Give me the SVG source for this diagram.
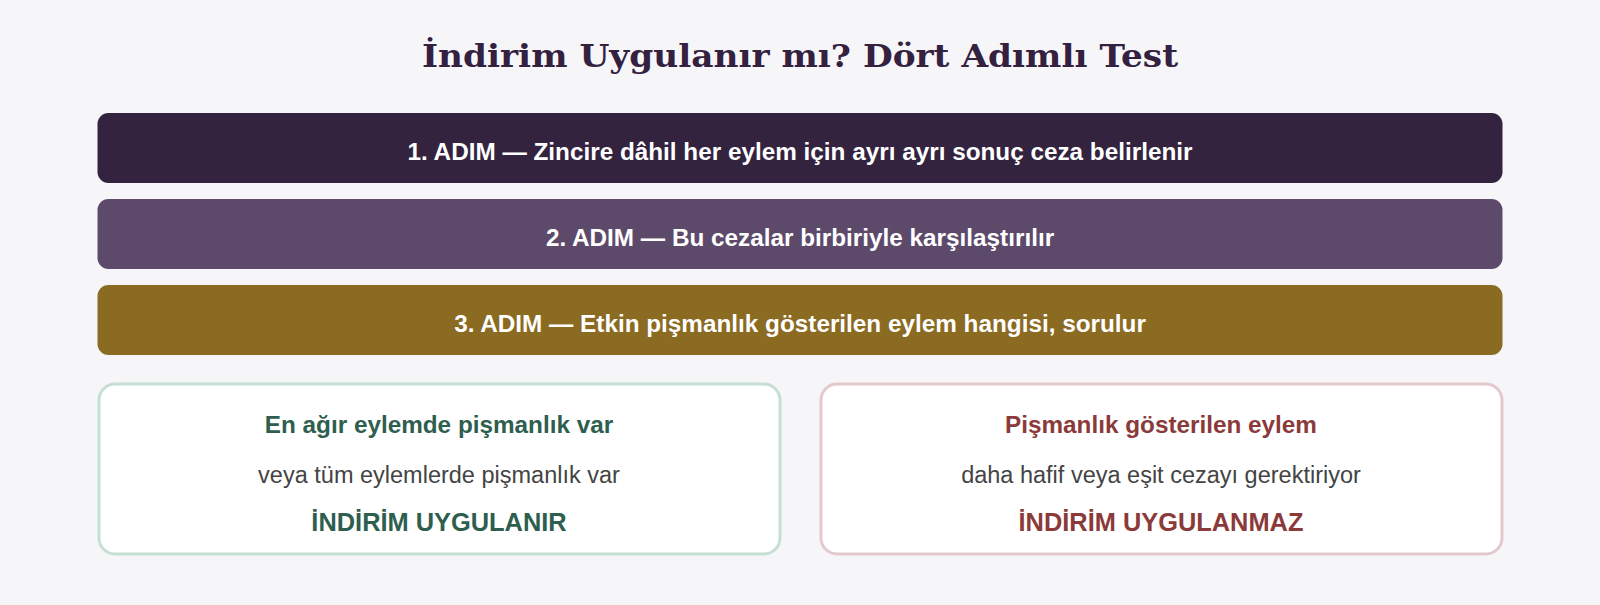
<svg xmlns="http://www.w3.org/2000/svg" width="1600" height="605" viewBox="0 0 1600 605">
<style>
.title{font-family:"DejaVu Serif","Liberation Serif",serif;font-weight:bold;font-size:32px;fill:#33213f;text-anchor:middle}
.step{font-family:"Liberation Sans",Arial,sans-serif;font-weight:bold;font-size:24.3px;fill:#ffffff;text-anchor:middle}
.head{font-family:"Liberation Sans",Arial,sans-serif;font-weight:bold;font-size:24.3px;text-anchor:middle}
.body{font-family:"Liberation Sans",Arial,sans-serif;font-size:23.5px;fill:#444444;text-anchor:middle}
.verdict{font-family:"Liberation Sans",Arial,sans-serif;font-weight:bold;font-size:25.4px;text-anchor:middle}
.green{fill:#2e5e4e}
.red{fill:#8b3a3a}
</style>
<rect x="0" y="0" width="1600" height="605" fill="#f6f6f9"/>
<text class="title" x="800" y="66.5" textLength="756" lengthAdjust="spacingAndGlyphs">İndirim Uygulanır mı? Dört Adımlı Test</text>
<g id="step1">
<rect x="97.5" y="113" width="1405" height="70" rx="11" fill="#33233f"/>
<text class="step" x="800" y="159.5">1. ADIM — Zincire dâhil her eylem için ayrı ayrı sonuç ceza belirlenir</text>
</g>
<g id="step2">
<rect x="97.5" y="199" width="1405" height="70" rx="11" fill="#5d4a6b"/>
<text class="step" x="800" y="245.5">2. ADIM — Bu cezalar birbiriyle karşılaştırılır</text>
</g>
<g id="step3">
<rect x="97.5" y="285" width="1405" height="70" rx="11" fill="#8b6a22"/>
<text class="step" x="800" y="331.5">3. ADIM — Etkin pişmanlık gösterilen eylem hangisi, sorulur</text>
</g>
<g id="outcome-yes">
<rect x="99" y="384" width="681" height="170" rx="16" fill="#ffffff" stroke="#c6dfd3" stroke-width="3"/>
<text class="head green" x="439" y="433">En ağır eylemde pişmanlık var</text>
<text class="body" x="439" y="483">veya tüm eylemlerde pişmanlık var</text>
<text class="verdict green" x="439" y="531">İNDİRİM UYGULANIR</text>
</g>
<g id="outcome-no">
<rect x="821" y="384" width="681" height="170" rx="16" fill="#ffffff" stroke="#e3c9cb" stroke-width="3"/>
<text class="head red" x="1161" y="433">Pişmanlık gösterilen eylem</text>
<text class="body" x="1161" y="483">daha hafif veya eşit cezayı gerektiriyor</text>
<text class="verdict red" x="1161" y="531">İNDİRİM UYGULANMAZ</text>
</g>
<g id="connectors"></g>
</svg>
